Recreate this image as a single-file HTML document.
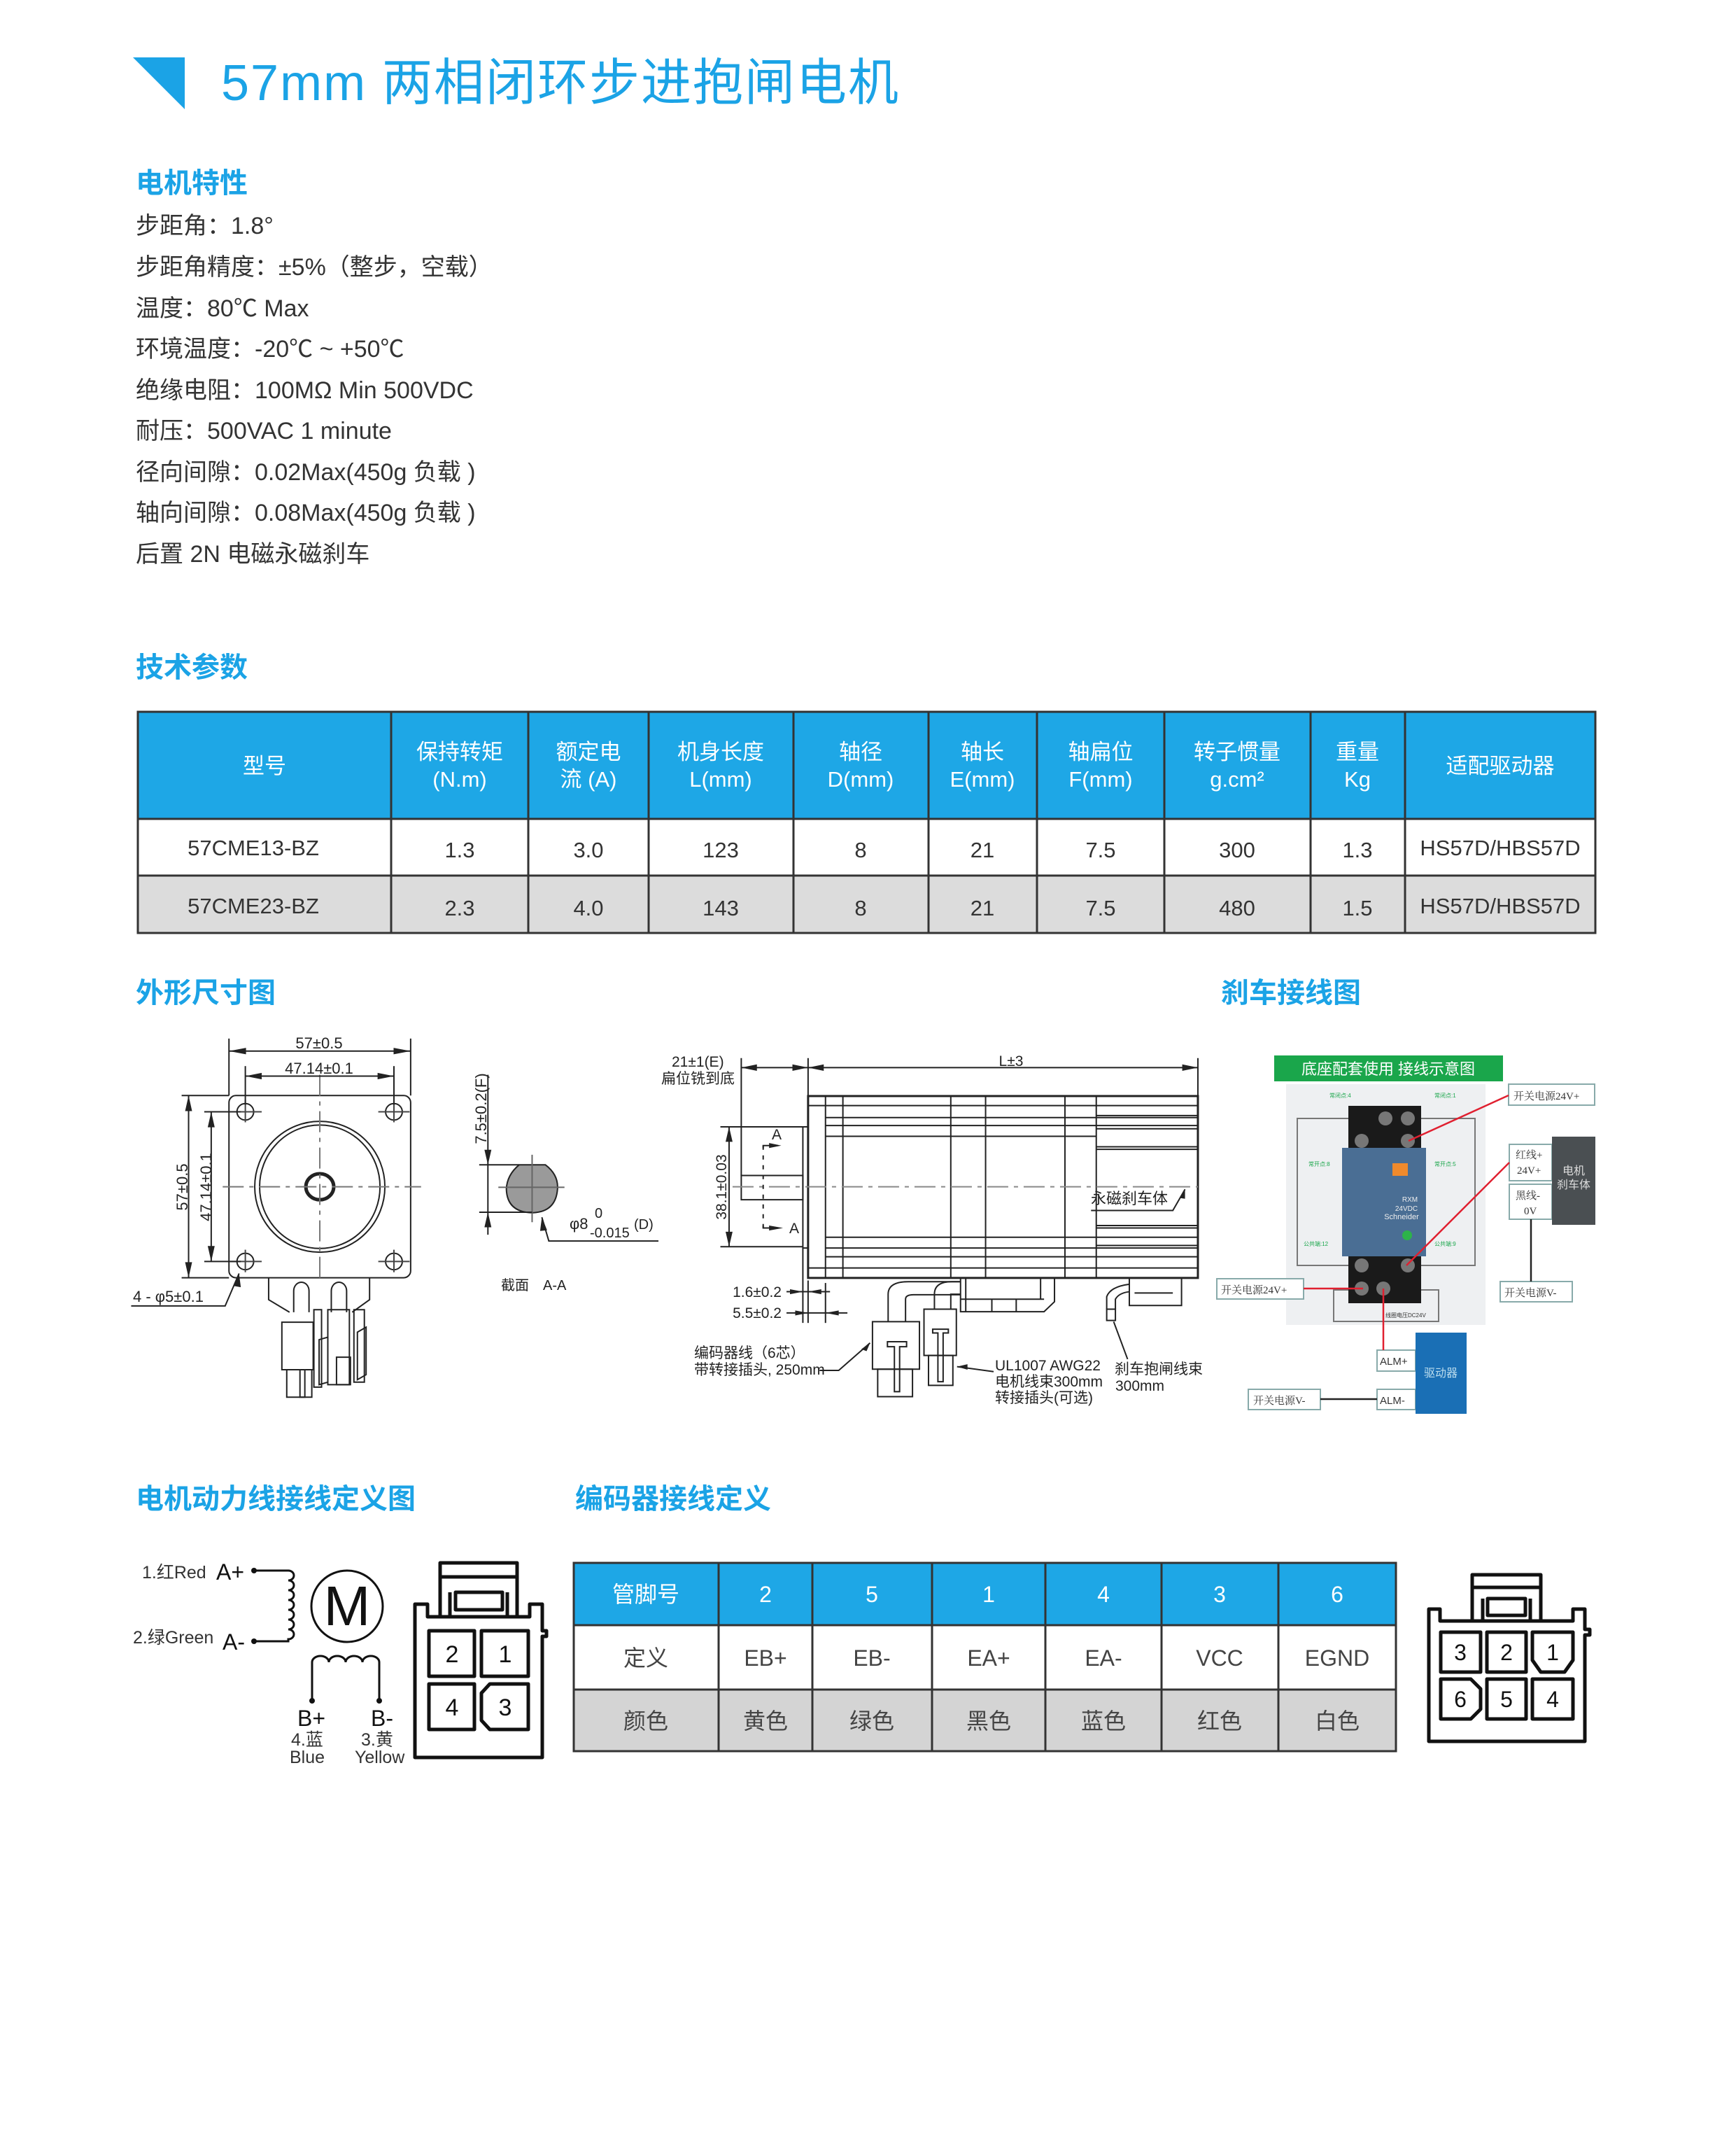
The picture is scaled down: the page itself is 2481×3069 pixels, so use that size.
<!DOCTYPE html>
<html><head><meta charset="utf-8">
<style>
html,body{margin:0;padding:0;background:#fff;}
body{width:2481px;height:3069px;position:relative;overflow:hidden;font-family:"Liberation Sans","Noto Sans CJK SC",sans-serif;}
svg{position:absolute;left:0;top:0;}
</style></head><body>
<svg width="2481" height="3069" viewBox="0 0 2481 3069" xmlns="http://www.w3.org/2000/svg" font-family="Liberation Sans, Noto Sans CJK SC, sans-serif">
<!-- Title -->
<polygon points="190,82 264,82 264,156" fill="#1ba3e6"/>
<text x="316" y="143" font-size="72" letter-spacing="2" fill="#1ba3e6">57mm 两相闭环步进抱闸电机</text>

<!-- Motor characteristics -->
<text x="194" y="275" font-size="40" font-weight="bold" fill="#1ba3e6">电机特性</text>
<g font-size="34" fill="#333">
<text x="194" y="334">步距角：1.8°</text>
<text x="194" y="393">步距角精度：±5%（整步，空载）</text>
<text x="194" y="452">温度：80℃ Max</text>
<text x="194" y="510">环境温度：-20℃ ~ +50℃</text>
<text x="194" y="569">绝缘电阻：100MΩ Min 500VDC</text>
<text x="194" y="627">耐压：500VAC 1 minute</text>
<text x="194" y="686">径向间隙：0.02Max(450g 负载 )</text>
<text x="194" y="744">轴向间隙：0.08Max(450g 负载 )</text>
<text x="194" y="803">后置 2N 电磁永磁刹车</text>
</g>

<!-- Tech params -->
<text x="194" y="967" font-size="40" font-weight="bold" fill="#1ba3e6">技术参数</text>
<rect x="197" y="1017" width="2083" height="153" fill="#1ea7e6"/>
<rect x="197" y="1170" width="2083" height="81" fill="#fff"/>
<rect x="197" y="1251" width="2083" height="82" fill="#dcdcdc"/>
<g stroke="#333" stroke-width="3" fill="none">
<rect x="197" y="1017" width="2083" height="316"/>
<line x1="197" y1="1170" x2="2280" y2="1170"/>
<line x1="197" y1="1251" x2="2280" y2="1251"/>
<line x1="559" y1="1017" x2="559" y2="1333"/>
<line x1="755" y1="1017" x2="755" y2="1333"/>
<line x1="927" y1="1017" x2="927" y2="1333"/>
<line x1="1134" y1="1017" x2="1134" y2="1333"/>
<line x1="1327" y1="1017" x2="1327" y2="1333"/>
<line x1="1482" y1="1017" x2="1482" y2="1333"/>
<line x1="1664" y1="1017" x2="1664" y2="1333"/>
<line x1="1873" y1="1017" x2="1873" y2="1333"/>
<line x1="2008" y1="1017" x2="2008" y2="1333"/>
</g>
<g font-size="31" fill="#fff" text-anchor="middle">
<text x="378" y="1105">型号</text>
<text x="657" y="1085">保持转矩</text><text x="657" y="1124">(N.m)</text>
<text x="841" y="1085">额定电</text><text x="841" y="1124">流 (A)</text>
<text x="1030" y="1085">机身长度</text><text x="1030" y="1124">L(mm)</text>
<text x="1230" y="1085">轴径</text><text x="1230" y="1124">D(mm)</text>
<text x="1404" y="1085">轴长</text><text x="1404" y="1124">E(mm)</text>
<text x="1573" y="1085">轴扁位</text><text x="1573" y="1124">F(mm)</text>
<text x="1768" y="1085">转子惯量</text><text x="1768" y="1124">g.cm²</text>
<text x="1940" y="1085">重量</text><text x="1940" y="1124">Kg</text>
<text x="2144" y="1105">适配驱动器</text>
</g>
<g font-size="31" fill="#333" text-anchor="middle">
<text x="362" y="1222">57CME13-BZ</text><text x="657" y="1225">1.3</text><text x="841" y="1225">3.0</text><text x="1030" y="1225">123</text><text x="1230" y="1225">8</text><text x="1404" y="1225">21</text><text x="1573" y="1225">7.5</text><text x="1768" y="1225">300</text><text x="1940" y="1225">1.3</text><text x="2144" y="1222">HS57D/HBS57D</text>
<text x="362" y="1305">57CME23-BZ</text><text x="657" y="1308">2.3</text><text x="841" y="1308">4.0</text><text x="1030" y="1308">143</text><text x="1230" y="1308">8</text><text x="1404" y="1308">21</text><text x="1573" y="1308">7.5</text><text x="1768" y="1308">480</text><text x="1940" y="1308">1.5</text><text x="2144" y="1305">HS57D/HBS57D</text>
</g>

<!-- Section headings -->
<text x="194" y="1432" font-size="40" font-weight="bold" fill="#1ba3e6">外形尺寸图</text>
<text x="1745" y="1432" font-size="40" font-weight="bold" fill="#1ba3e6">刹车接线图</text>
<text x="194" y="2155" font-size="40" font-weight="bold" fill="#1ba3e6">电机动力线接线定义图</text>
<text x="822" y="2155" font-size="40" font-weight="bold" fill="#1ba3e6">编码器接线定义</text>

<!-- Left front-view drawing -->
<g transform="translate(180,1450) scale(0.4974,0.357)" fill="none" stroke="#222" stroke-width="2">
<g>
<rect x="296" y="323" width="522" height="729" rx="20" ry="28" vector-effect="non-scaling-stroke"/>
<ellipse cx="343" cy="388" rx="24" ry="33" vector-effect="non-scaling-stroke"/>
<ellipse cx="770" cy="388" rx="24" ry="33" vector-effect="non-scaling-stroke"/>
<ellipse cx="343" cy="987" rx="24" ry="33" vector-effect="non-scaling-stroke"/>
<ellipse cx="770" cy="987" rx="24" ry="33" vector-effect="non-scaling-stroke"/>
<ellipse cx="557" cy="688" rx="187" ry="262" vector-effect="non-scaling-stroke"/>
<ellipse cx="557" cy="688" rx="173" ry="247" vector-effect="non-scaling-stroke"/>
<ellipse cx="557" cy="688" rx="40" ry="52" stroke-width="5" vector-effect="non-scaling-stroke"/>
<g stroke="#777" stroke-dasharray="30,8,6,8">
<line x1="278" y1="688" x2="848" y2="688" vector-effect="non-scaling-stroke"/>
<line x1="557" y1="240" x2="557" y2="1060" vector-effect="non-scaling-stroke"/>
</g>
<g stroke="#444">
<line x1="300" y1="388" x2="390" y2="388" vector-effect="non-scaling-stroke"/>
<line x1="725" y1="388" x2="815" y2="388" vector-effect="non-scaling-stroke"/>
<line x1="300" y1="987" x2="390" y2="987" vector-effect="non-scaling-stroke"/>
<line x1="725" y1="987" x2="815" y2="987" vector-effect="non-scaling-stroke"/>
<line x1="343" y1="340" x2="343" y2="430" vector-effect="non-scaling-stroke"/>
<line x1="770" y1="340" x2="770" y2="430" vector-effect="non-scaling-stroke"/>
<line x1="343" y1="940" x2="343" y2="1030" vector-effect="non-scaling-stroke"/>
<line x1="770" y1="940" x2="770" y2="1030" vector-effect="non-scaling-stroke"/>
</g>
<line x1="296" y1="145" x2="818" y2="145" vector-effect="non-scaling-stroke"/>
<line x1="296" y1="95" x2="296" y2="323" vector-effect="non-scaling-stroke"/>
<line x1="818" y1="95" x2="818" y2="323" vector-effect="non-scaling-stroke"/>
<line x1="343" y1="245" x2="770" y2="245" vector-effect="non-scaling-stroke"/>
<line x1="343" y1="205" x2="343" y2="360" vector-effect="non-scaling-stroke"/>
<line x1="770" y1="205" x2="770" y2="360" vector-effect="non-scaling-stroke"/>
<line x1="180" y1="323" x2="180" y2="1052" vector-effect="non-scaling-stroke"/>
<line x1="160" y1="323" x2="296" y2="323" vector-effect="non-scaling-stroke"/>
<line x1="160" y1="1052" x2="296" y2="1052" vector-effect="non-scaling-stroke"/>
<line x1="245" y1="388" x2="245" y2="987" vector-effect="non-scaling-stroke"/>
<line x1="225" y1="388" x2="330" y2="388" vector-effect="non-scaling-stroke"/>
<line x1="225" y1="987" x2="330" y2="987" vector-effect="non-scaling-stroke"/>
<polyline points="325,1035 285,1165 15,1165" vector-effect="non-scaling-stroke"/>
<polyline points="410,1052 410,1140 470,1190" vector-effect="non-scaling-stroke"/>
<polyline points="700,1052 700,1140 650,1190" vector-effect="non-scaling-stroke"/>
<path d="M482,1190 V1105 A22,35 0 0 1 526,1105 V1190" vector-effect="non-scaling-stroke"/>
<path d="M590,1190 V1105 A22,35 0 0 1 634,1105 V1190" vector-effect="non-scaling-stroke"/>
<rect x="448" y="1230" width="90" height="190" vector-effect="non-scaling-stroke"/>
<rect x="462" y="1420" width="72" height="110" vector-effect="non-scaling-stroke"/>
<rect x="500" y="1420" width="14" height="110" vector-effect="non-scaling-stroke"/>
<rect x="540" y="1180" width="22" height="310" vector-effect="non-scaling-stroke"/>
<rect x="580" y="1180" width="62" height="300" vector-effect="non-scaling-stroke"/>
<rect x="605" y="1370" width="40" height="110" vector-effect="non-scaling-stroke"/>
<rect x="655" y="1180" width="30" height="290" vector-effect="non-scaling-stroke"/>
<path d="M665,1270 L690,1250 V1440 L665,1460 Z" vector-effect="non-scaling-stroke"/>
<path d="M555,1300 L580,1290 V1470 L555,1480 Z" vector-effect="non-scaling-stroke"/>
<path d="M1130,600 L1205,600 Q1243,640 1240,697 Q1235,790 1167,792 Q1095,790 1093,697 Q1095,640 1130,600Z" fill="#9a9a9a" vector-effect="non-scaling-stroke"/>
<line x1="1070" y1="690" x2="1260" y2="690" stroke="#666" vector-effect="non-scaling-stroke"/>
<line x1="1167" y1="560" x2="1167" y2="830" stroke="#666" vector-effect="non-scaling-stroke"/>
<line x1="1040" y1="240" x2="1040" y2="880" vector-effect="non-scaling-stroke"/>
<line x1="1015" y1="600" x2="1130" y2="600" vector-effect="non-scaling-stroke"/>
<line x1="1015" y1="790" x2="1167" y2="790" vector-effect="non-scaling-stroke"/>
<polyline points="1195,810 1215,905 1530,905" vector-effect="non-scaling-stroke"/>
</g>
<g fill="#222" stroke="none">
<polygon points="296,145 345,132 345,158"/><polygon points="818,145 769,132 769,158"/>
<polygon points="343,245 390,232 390,258"/><polygon points="770,245 723,232 723,258"/>
<polygon points="180,323 170,385 190,385"/><polygon points="180,1052 170,990 190,990"/>
<polygon points="245,388 235,450 255,450"/><polygon points="245,987 235,925 255,925"/>
<polygon points="325,1035 310,1085 330,1090"/>
<polygon points="1040,600 1030,540 1050,540"/><polygon points="1040,790 1030,850 1050,850"/>
<polygon points="1195,810 1190,865 1210,862"/>
</g>
</g>
<g font-size="22" fill="#222">
<text x="456" y="1498" text-anchor="middle">57±0.5</text>
<text x="456" y="1534" text-anchor="middle">47.14±0.1</text>
<text transform="translate(268,1696) rotate(-90)" text-anchor="middle">57±0.5</text>
<text transform="translate(302,1696) rotate(-90)" text-anchor="middle">47.14±0.1</text>
<text x="190" y="1860">4 - φ5±0.1</text>
<text transform="translate(695,1584) rotate(-90)" text-anchor="middle">7.5±0.2(F)</text>
<text x="814" y="1756">φ8</text>
<text x="850" y="1740" font-size="20">0</text>
<text x="843" y="1768" font-size="20">-0.015</text>
<text x="906" y="1756" font-size="20">(D)</text>
<text x="716" y="1843" font-size="20">截面　A-A</text>
</g>

<!-- Middle side-view drawing -->
<g transform="translate(940,1460) scale(0.4974,0.357)" fill="none" stroke="#222" stroke-width="2">
<rect x="432" y="297" width="1120" height="728" stroke-width="3" vector-effect="non-scaling-stroke"/>
<g>
<line x1="482" y1="297" x2="482" y2="1025" vector-effect="non-scaling-stroke"/>
<line x1="532" y1="297" x2="532" y2="1025" vector-effect="non-scaling-stroke"/>
<line x1="842" y1="297" x2="842" y2="1025" vector-effect="non-scaling-stroke"/>
<line x1="942" y1="297" x2="942" y2="1025" vector-effect="non-scaling-stroke"/>
<line x1="1170" y1="297" x2="1170" y2="1025" vector-effect="non-scaling-stroke"/>
<line x1="1260" y1="297" x2="1260" y2="1025" vector-effect="non-scaling-stroke"/>
<line x1="432" y1="335" x2="1552" y2="335" vector-effect="non-scaling-stroke"/>
<line x1="482" y1="383" x2="1552" y2="383" vector-effect="non-scaling-stroke"/>
<line x1="482" y1="415" x2="1552" y2="415" vector-effect="non-scaling-stroke"/>
<line x1="482" y1="458" x2="1260" y2="458" vector-effect="non-scaling-stroke"/>
<line x1="1260" y1="375" x2="1552" y2="375" vector-effect="non-scaling-stroke"/>
<line x1="1260" y1="428" x2="1552" y2="428" vector-effect="non-scaling-stroke"/>
<line x1="1260" y1="500" x2="1552" y2="500" vector-effect="non-scaling-stroke"/>
<line x1="1260" y1="510" x2="1552" y2="510" vector-effect="non-scaling-stroke"/>
<line x1="1260" y1="815" x2="1552" y2="815" vector-effect="non-scaling-stroke"/>
<line x1="1260" y1="825" x2="1552" y2="825" vector-effect="non-scaling-stroke"/>
<line x1="482" y1="862" x2="1552" y2="862" vector-effect="non-scaling-stroke"/>
<line x1="482" y1="905" x2="1552" y2="905" vector-effect="non-scaling-stroke"/>
<line x1="482" y1="940" x2="1552" y2="940" vector-effect="non-scaling-stroke"/>
<line x1="1260" y1="895" x2="1552" y2="895" vector-effect="non-scaling-stroke"/>
<line x1="432" y1="985" x2="1552" y2="985" vector-effect="non-scaling-stroke"/>
</g>
<rect x="417" y="420" width="15" height="485" vector-effect="non-scaling-stroke"/>
<rect x="240" y="615" width="177" height="97" vector-effect="non-scaling-stroke"/>
<line x1="215" y1="660" x2="1552" y2="660" stroke="#888" stroke-dasharray="30,8,6,8" vector-effect="non-scaling-stroke"/>
<line x1="303" y1="495" x2="303" y2="825" stroke-dasharray="6,8" vector-effect="non-scaling-stroke"/>
<polyline points="303,505 303,495 345,495" vector-effect="non-scaling-stroke"/>
<polyline points="303,815 303,825 345,825" vector-effect="non-scaling-stroke"/>
<line x1="240" y1="183" x2="1552" y2="183" vector-effect="non-scaling-stroke"/>
<line x1="240" y1="145" x2="240" y2="615" vector-effect="non-scaling-stroke"/>
<line x1="432" y1="145" x2="432" y2="297" vector-effect="non-scaling-stroke"/>
<line x1="1552" y1="145" x2="1552" y2="297" vector-effect="non-scaling-stroke"/>
<line x1="205" y1="420" x2="205" y2="900" vector-effect="non-scaling-stroke"/>
<line x1="180" y1="420" x2="417" y2="420" vector-effect="non-scaling-stroke"/>
<line x1="180" y1="900" x2="417" y2="900" vector-effect="non-scaling-stroke"/>
<line x1="417" y1="905" x2="417" y2="1205" vector-effect="non-scaling-stroke"/>
<line x1="432" y1="1035" x2="432" y2="1205" vector-effect="non-scaling-stroke"/>
<line x1="482" y1="1045" x2="482" y2="1205" vector-effect="non-scaling-stroke"/>
<line x1="370" y1="1080" x2="495" y2="1080" vector-effect="non-scaling-stroke"/>
<line x1="370" y1="1165" x2="545" y2="1165" vector-effect="non-scaling-stroke"/>
<path d="M662,1200 V1090 Q662,1040 720,1040 H870" vector-effect="non-scaling-stroke"/>
<path d="M712,1200 V1110 Q712,1092 735,1092 H870" vector-effect="non-scaling-stroke"/>
<path d="M795,1150 V1090 Q795,1040 845,1040 H870" vector-effect="non-scaling-stroke"/>
<path d="M842,1150 V1090 H870" vector-effect="non-scaling-stroke"/>
<path d="M870,1025 V1160 H1110 L1140,1120 V1025" vector-effect="non-scaling-stroke"/>
<line x1="885" y1="1025" x2="885" y2="1160" vector-effect="non-scaling-stroke"/>
<line x1="870" y1="1110" x2="1110" y2="1110" vector-effect="non-scaling-stroke"/>
<line x1="960" y1="1110" x2="960" y2="1160" vector-effect="non-scaling-stroke"/>
<line x1="1030" y1="1110" x2="1030" y2="1160" vector-effect="non-scaling-stroke"/>
<line x1="1100" y1="1025" x2="1100" y2="1110" vector-effect="non-scaling-stroke"/>
<rect x="617" y="1200" width="135" height="190" vector-effect="non-scaling-stroke"/>
<rect x="632" y="1390" width="100" height="110" vector-effect="non-scaling-stroke"/>
<path d="M660,1280 H715 V1300 H695 V1480 H680 V1300 H660Z" vector-effect="non-scaling-stroke"/>
<rect x="765" y="1150" width="93" height="185" vector-effect="non-scaling-stroke"/>
<rect x="778" y="1335" width="70" height="120" vector-effect="non-scaling-stroke"/>
<path d="M790,1230 H835 V1245 H820 V1440 H805 V1245 H790Z" vector-effect="non-scaling-stroke"/>
<rect x="1355" y="1025" width="150" height="110" vector-effect="non-scaling-stroke"/>
<line x1="1370" y1="1085" x2="1480" y2="1085" vector-effect="non-scaling-stroke"/>
<path d="M1290,1150 V1100 Q1300,1060 1355,1050" vector-effect="non-scaling-stroke"/>
<path d="M1315,1150 V1110 Q1325,1085 1355,1080" vector-effect="non-scaling-stroke"/>
<rect x="1290" y="1150" width="25" height="45" vector-effect="non-scaling-stroke"/>
<polyline points="465,1395 520,1395 610,1285" vector-effect="non-scaling-stroke"/>
<line x1="860" y1="1380" x2="965" y2="1400" vector-effect="non-scaling-stroke"/>
<line x1="1310" y1="1200" x2="1350" y2="1350" vector-effect="non-scaling-stroke"/>
<polyline points="1245,755 1480,755 1515,670" vector-effect="non-scaling-stroke"/>
<g fill="#222" stroke="none">
<polygon points="240,183 285,170 285,196"/><polygon points="432,183 387,170 387,196"/>
<polygon points="432,183 477,170 477,196"/><polygon points="1552,183 1507,170 1507,196"/>
<polygon points="205,420 195,480 215,480"/><polygon points="205,900 195,840 215,840"/>
<polygon points="355,495 320,485 320,505"/>
<polygon points="360,825 320,815 320,835"/>
<polygon points="417,1080 380,1070 380,1090"/><polygon points="432,1080 470,1070 470,1090"/>
<polygon points="432,1165 395,1155 395,1175"/><polygon points="482,1165 520,1155 520,1175"/>
<polygon points="610,1285 585,1310 600,1318"/>
<polygon points="860,1380 890,1370 890,1392"/>
<polygon points="1515,670 1500,705 1515,708"/>
</g>
</g>
<g font-size="21" fill="#222">
<text x="960" y="1524">21±1(E)</text>
<text x="945" y="1548">扁位铣到底</text>
<text x="1445" y="1523" text-anchor="middle">L±3</text>
<text transform="translate(1038,1696) rotate(-90)" text-anchor="middle">38.1±0.03</text>
<text x="1103" y="1628">A</text>
<text x="1128" y="1762">A</text>
<text x="1559" y="1720" font-size="22">永磁刹车体</text>
<text x="1117" y="1853" text-anchor="end">1.6±0.2</text>
<text x="1117" y="1883" text-anchor="end">5.5±0.2</text>
<text x="992" y="1940">编码器线（6芯）</text>
<text x="992" y="1964">带转接插头, 250mm</text>
<text x="1422" y="1958">UL1007  AWG22</text>
<text x="1422" y="1981">电机线束300mm</text>
<text x="1422" y="2004">转接插头(可选)</text>
<text x="1593" y="1963">刹车抱闸线束</text>
<text x="1594" y="1987">300mm</text>
</g>

<!-- Brake wiring diagram -->
<rect x="1838" y="1549" width="285" height="344" fill="#eef0f2"/>
<rect x="1821" y="1508" width="327" height="37" fill="#1aa64b"/>
<text x="1984" y="1535" font-size="22" fill="#fff" text-anchor="middle">底座配套使用 接线示意图</text>
<g fill="none" stroke="#777" stroke-width="2">
<polyline points="1927,1598 1854,1598 1854,1808 1927,1808"/>
<polyline points="2031,1598 2108,1598 2108,1808 2031,1808"/>
<polyline points="1927,1843 1906,1843 1906,1888 2056,1888 2056,1843 2031,1843"/>
</g>
<rect x="1927" y="1580" width="104" height="282" fill="#1a1a1a"/>
<g fill="#777">
<circle cx="1980" cy="1598" r="10"/><circle cx="2012" cy="1598" r="10"/>
<circle cx="1946" cy="1630" r="10"/><circle cx="2012" cy="1630" r="10"/>
<circle cx="1946" cy="1808" r="10"/><circle cx="2012" cy="1808" r="10"/>
<circle cx="1946" cy="1841" r="10"/><circle cx="1977" cy="1841" r="10"/>
</g>
<rect x="1918" y="1640" width="120" height="155" fill="#4a6e94"/>
<rect x="1990" y="1662" width="22" height="18" fill="#f08a2c"/>
<circle cx="2011" cy="1765" r="7" fill="#2db34a"/>
<text x="2015" y="1717" font-size="10" fill="#eee" text-anchor="middle">RXM</text>
<text x="2010" y="1730" font-size="10" fill="#eee" text-anchor="middle">24VDC</text>
<text x="2003" y="1742" font-size="11" fill="#eee" text-anchor="middle">Schneider</text>
<g font-size="8" fill="#1aa64b">
<text x="1900" y="1568">常闭点:4</text><text x="2050" y="1568">常闭点:1</text>
<text x="1870" y="1666">常开点:8</text><text x="2050" y="1666">常开点:5</text>
<text x="1863" y="1780">公共端:12</text><text x="2050" y="1780">公共端:9</text>
</g>
<text x="1980" y="1882" font-size="8" fill="#333">线圈电压DC24V</text>
<g fill="#fff" stroke="#8aa" stroke-width="2">
<rect x="2156" y="1549" width="123" height="30"/>
<rect x="2157" y="1635" width="61" height="52"/>
<rect x="2157" y="1692" width="61" height="50"/>
<rect x="2144" y="1831" width="103" height="29"/>
<rect x="1739" y="1827" width="124" height="29"/>
<rect x="1968" y="1929" width="55" height="30"/>
<rect x="1968" y="1985" width="55" height="29"/>
<rect x="1784" y="1985" width="103" height="29"/>
</g>
<rect x="2218" y="1624" width="62" height="126" fill="#4a4f52"/>
<rect x="2023" y="1904" width="73" height="116" fill="#1a6fb5"/>
<g font-size="15" fill="#333" font-family="Liberation Serif, Noto Serif CJK SC, serif">
<text x="2163" y="1571">开关电源24V+</text>
<text x="2166" y="1655">红线+</text><text x="2168" y="1677">24V+</text>
<text x="2166" y="1713">黑线-</text><text x="2178" y="1735">0V</text>
<text x="2150" y="1852">开关电源V-</text>
<text x="1745" y="1848">开关电源24V+</text>
<text x="1972" y="1950" font-family="Liberation Sans, sans-serif">ALM+</text>
<text x="1972" y="2006" font-family="Liberation Sans, sans-serif">ALM-</text>
<text x="1791" y="2006">开关电源V-</text>
</g>
<text x="2249" y="1678" font-size="16" fill="#ddd" text-anchor="middle">电机</text>
<text x="2249" y="1698" font-size="16" fill="#ddd" text-anchor="middle">刹车体</text>
<text x="2059" y="1967" font-size="16" fill="#bde" text-anchor="middle">驱动器</text>
<g stroke="#e02030" stroke-width="2.5" fill="none">
<line x1="2156" y1="1565" x2="2013" y2="1630"/>
<line x1="2157" y1="1661" x2="2010" y2="1808"/>
<line x1="1863" y1="1841" x2="1948" y2="1841"/>
<line x1="1977" y1="1841" x2="1977" y2="1929"/>
</g>
<g stroke="#222" stroke-width="2.5">
<line x1="2188" y1="1742" x2="2188" y2="1831"/>
<line x1="1887" y1="1999" x2="1968" y2="1999"/>
</g>

<!-- Power wiring diagram -->
<g font-size="25" fill="#333">
<text x="203" y="2255">1.红Red</text>
<text x="190" y="2348">2.绿Green</text>
</g>
<g font-size="32" fill="#111">
<text x="309" y="2257">A+</text>
<text x="318" y="2357">A-</text>
<text x="425" y="2466">B+</text>
<text x="530" y="2466">B-</text>
</g>
<g font-size="25" fill="#333">
<text x="416" y="2494">4.蓝</text><text x="414" y="2519">Blue</text>
<text x="516" y="2494">3.黄</text><text x="507" y="2519">Yellow</text>
</g>
<g fill="none" stroke="#111" stroke-width="3">
<path d="M363,2244 H412 a8,7 0 0 1 0,14 a8,7 0 0 1 0,14 a8,7 0 0 1 0,14 a8,7 0 0 1 0,14 a8,7 0 0 1 0,14 a8,7 0 0 1 0,14 a8,7 0 0 1 0,14 V2345 H363"/>
<ellipse cx="496" cy="2295" rx="51" ry="51"/>
<path d="M446,2430 V2375 a12,9 0 0 1 24,0 a12,9 0 0 1 24,0 a12,9 0 0 1 24,0 a12,9 0 0 1 24,0 V2430"/>
</g>
<g fill="#111"><circle cx="363" cy="2244" r="4"/><circle cx="363" cy="2345" r="4"/><circle cx="446" cy="2430" r="4"/><circle cx="542" cy="2430" r="4"/></g>
<text x="496" y="2322" font-size="80" fill="#111" text-anchor="middle">M</text>
<g fill="none" stroke="#111" stroke-width="5" stroke-linejoin="round">
<path d="M593,2292 H611 V2310 H757 V2292 H775 V2330 H781 V2338 H775 V2511 H593 Z"/>
<rect x="629" y="2233" width="110" height="77"/>
<line x1="629" y1="2253" x2="739" y2="2253"/>
<line x1="643" y1="2275" x2="643" y2="2310"/><line x1="725" y1="2275" x2="725" y2="2310"/>
<rect x="651" y="2275" width="67" height="25"/>
<rect x="613" y="2330" width="65" height="65"/>
<rect x="688" y="2330" width="67" height="65"/>
<rect x="613" y="2406" width="65" height="65"/>
<path d="M700,2406 H755 V2471 H700 L688,2458 V2419 Z"/>
</g>
<g font-size="34" fill="#111" text-anchor="middle">
<text x="646" y="2375">2</text><text x="722" y="2375">1</text>
<text x="646" y="2451">4</text><text x="722" y="2451">3</text>
</g>

<!-- Encoder table -->
<rect x="820" y="2233" width="1175" height="89" fill="#1ea7e6"/>
<rect x="820" y="2322" width="1175" height="92" fill="#fff"/>
<rect x="820" y="2414" width="1175" height="88" fill="#d4d4d4"/>
<g stroke="#333" stroke-width="3" fill="none">
<rect x="820" y="2233" width="1175" height="269"/>
<line x1="820" y1="2322" x2="1995" y2="2322"/>
<line x1="820" y1="2414" x2="1995" y2="2414"/>
<line x1="1027" y1="2233" x2="1027" y2="2502"/>
<line x1="1161" y1="2233" x2="1161" y2="2502"/>
<line x1="1332" y1="2233" x2="1332" y2="2502"/>
<line x1="1494" y1="2233" x2="1494" y2="2502"/>
<line x1="1660" y1="2233" x2="1660" y2="2502"/>
<line x1="1827" y1="2233" x2="1827" y2="2502"/>
</g>
<g font-size="32" text-anchor="middle" fill="#fff">
<text x="923" y="2289">管脚号</text><text x="1094" y="2289">2</text><text x="1246" y="2289">5</text><text x="1413" y="2289">1</text><text x="1577" y="2289">4</text><text x="1743" y="2289">3</text><text x="1911" y="2289">6</text>
</g>
<g font-size="32" text-anchor="middle" fill="#444">
<text x="923" y="2380">定义</text><text x="1094" y="2380">EB+</text><text x="1246" y="2380">EB-</text><text x="1413" y="2380">EA+</text><text x="1577" y="2380">EA-</text><text x="1743" y="2380">VCC</text><text x="1911" y="2380">EGND</text>
<text x="923" y="2470">颜色</text><text x="1094" y="2470">黄色</text><text x="1246" y="2470">绿色</text><text x="1413" y="2470">黑色</text><text x="1577" y="2470">蓝色</text><text x="1743" y="2470">红色</text><text x="1911" y="2470">白色</text>
</g>

<!-- Encoder connector -->
<g fill="none" stroke="#111" stroke-width="5" stroke-linejoin="round">
<path d="M2042,2299 H2058 V2316 H2248 V2299 H2265 V2328 H2272 V2336 H2265 V2488 H2042 Z"/>
<rect x="2104" y="2250" width="98" height="66"/>
<line x1="2104" y1="2268" x2="2202" y2="2268"/>
<line x1="2119" y1="2284" x2="2119" y2="2316"/><line x1="2187" y1="2284" x2="2187" y2="2316"/>
<rect x="2126" y="2284" width="54" height="24"/>
<rect x="2059" y="2332" width="57" height="57"/>
<rect x="2125" y="2332" width="56" height="57"/>
<path d="M2190,2332 H2248 V2372 L2236,2389 H2202 L2190,2372 Z"/>
<path d="M2059,2399 H2102 L2116,2413 V2442 L2102,2456 H2059 Z"/>
<rect x="2125" y="2399" width="56" height="57"/>
<rect x="2190" y="2399" width="58" height="57"/>
</g>
<g font-size="32" fill="#111" text-anchor="middle">
<text x="2087" y="2372">3</text><text x="2153" y="2372">2</text><text x="2219" y="2372">1</text>
<text x="2087" y="2439">6</text><text x="2153" y="2439">5</text><text x="2219" y="2439">4</text>
</g>
</svg>
</body></html>
